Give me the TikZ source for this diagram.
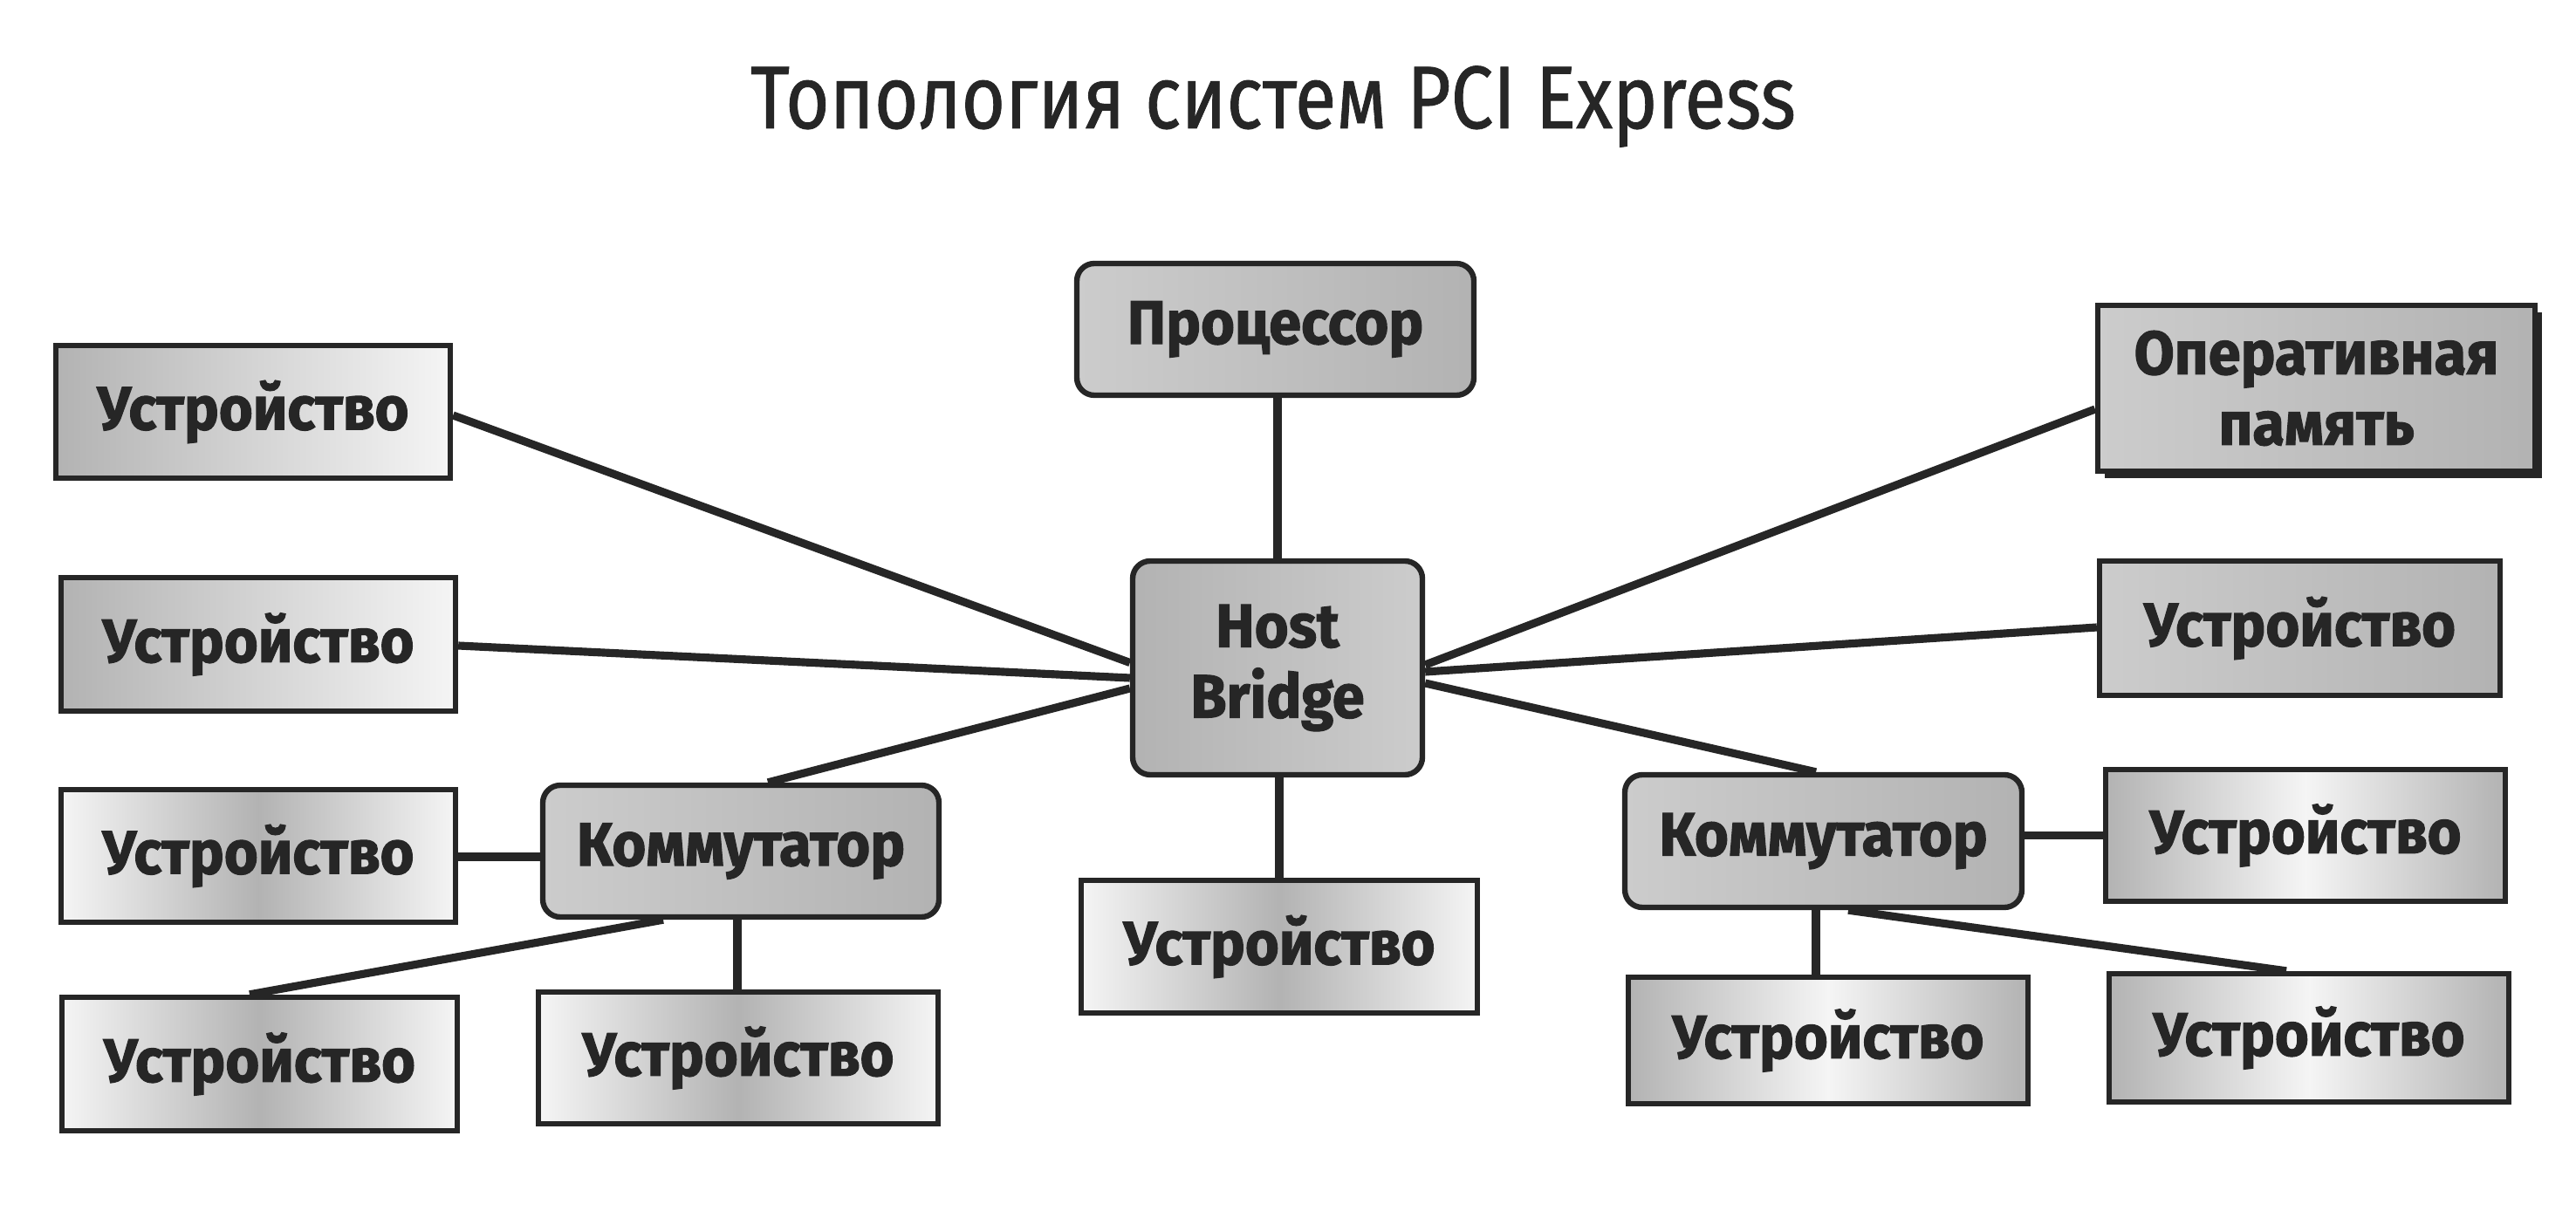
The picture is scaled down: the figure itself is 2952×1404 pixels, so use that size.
\documentclass[tikz,border=0pt]{standalone}
\usepackage{fontspec}
\setmainfont{Fira Sans}
\newfontfamily\titlefont[FakeStretch=0.85,FakeBold=0.8]{Fira Sans}
\newfontfamily\boxfont[FakeStretch=0.95,FakeBold=1.6]{Fira Sans}
\usetikzlibrary{calc}
\definecolor{ink}{HTML}{262626}
\definecolor{dk}{gray}{0.70}
\definecolor{md}{gray}{0.80}
\definecolor{lt}{gray}{0.96}
\tikzset{
  lbl/.style={font=\boxfont\bfseries\fontsize{20}{23}\selectfont, text=ink, align=center, inner sep=0pt},
  sqbox/.style={lbl, draw=ink, line width=1.8pt},
  rdbox/.style={lbl, draw=ink, line width=1.8pt, rounded corners=0.2cm},
  shLR/.style={left color=dk, right color=lt},
  shMid/.style={left color=lt, right color=lt, middle color=dk},
  shBand/.style={left color=dk, right color=dk, middle color=lt},
  shUni/.style={left color=md, right color=dk},
  shUni2/.style={left color=dk, right color=md},
  wire/.style={draw=ink, line width=2.6pt},
  bx/.style 2 args={minimum width=#1*0.01cm, minimum height=#2*0.01cm}
}
\begin{document}
\begin{tikzpicture}[x=0.01cm,y=-0.01cm]
\useasboundingbox (0,0) rectangle (2952,1404);
% title
\node[anchor=base, font=\titlefont\fontsize{29}{34}\selectfont, text=ink, inner sep=0pt] (title) at (1459,147) {Топология систем PCI Express};
% nodes
\node[sqbox, shLR, bx={452}{152}] (L1) at (290,472) {Устройство};
\node[sqbox, shLR, bx={452}{153}] (L2) at (296,738.5) {Устройство};
\node[sqbox, shMid, bx={452}{152}] (L3) at (296,981) {Устройство};
\node[sqbox, shMid, bx={453}{153}] (L4) at (297.5,1219.5) {Устройство};
\node[rdbox, shUni, bx={454}{151}] (KomL) at (849,975.5) {Коммутатор};
\node[sqbox, shMid, bx={458}{151}] (L5) at (846,1212.5) {Устройство};
\node[rdbox, shUni, bx={455}{151}] (Proc) at (1461.5,377.5) {Процессор};
\node[rdbox, shUni2, bx={332}{245}, text width=3.1cm] (HB) at (1464,765.5) {\fontsize{20}{23.5}\selectfont Host\\Bridge};
\node[sqbox, shMid, bx={454}{152}] (B) at (1466,1085) {Устройство};
\fill[ink] (2412,358) rectangle (2913,548);
\node[sqbox, shUni, bx={501}{190}, text width=4.9cm] (OP) at (2654.5,445) {\fontsize{20}{24.5}\selectfont Оперативная\\память};
\node[sqbox, shUni, bx={459}{154}] (R1) at (2635.5,720) {Устройство};
\node[rdbox, shUni, bx={455}{152}] (KomR) at (2089.5,964) {Коммутатор};
\node[sqbox, shBand, bx={458}{151}] (R2) at (2642,957.5) {Устройство};
\node[sqbox, shBand, bx={458}{145}] (R3) at (2095,1192.5) {Устройство};
\node[sqbox, shBand, bx={458}{147}] (R4) at (2646,1189.5) {Устройство};
% connector end points
\path ($(KomL.south)+(-4,0)$) coordinate (kl);
\path ($(Proc.south)+(2.5,0)$) coordinate (pr);
\path ($(HB.south)+(2,0)$) coordinate (hb);
\path ($(KomR.south)+(-8.5,0)$) coordinate (kr);
\path ($(L3.east)+(0,1)$) coordinate (l3);
% connectors
\draw[wire] ($(L1.east)+(0,4)$) -- ($(HB.west)+(0,-6)$);
\draw[wire] ($(L2.east)+(0,1.5)$) -- ($(HB.west)+(0,11.5)$);
\draw[wire] ($(KomL.north)+(31,0)$) -- ($(HB.west)+(0,23.5)$);
\draw[wire] (l3) -- (l3 -| KomL.west);
\draw[wire] ($(KomL.south)+(-89,0)$) -- ($(L4.north)+(-11.5,0)$);
\draw[wire] (kl) -- (kl |- L5.north);
\draw[wire] (pr) -- (pr |- HB.north);
\draw[wire] (hb) -- (hb |- B.north);
\draw[wire] ($(OP.west)+(0,24)$) -- ($(HB.east)+(0,-3.5)$);
\draw[wire] ($(R1.west)+(0,-1)$) -- ($(HB.east)+(0,4.5)$);
\draw[wire] ($(HB.east)+(0,17.5)$) -- ($(KomR.north)+(-8.5,0)$);
\draw[wire] (KomR.east |- R2.west) -- (R2.west);
\draw[wire] (kr) -- (kr |- R3.north);
\draw[wire] ($(KomR.south)+(28.5,0)$) -- ($(R4.north)+(-26,0)$);
\end{tikzpicture}
\end{document}
